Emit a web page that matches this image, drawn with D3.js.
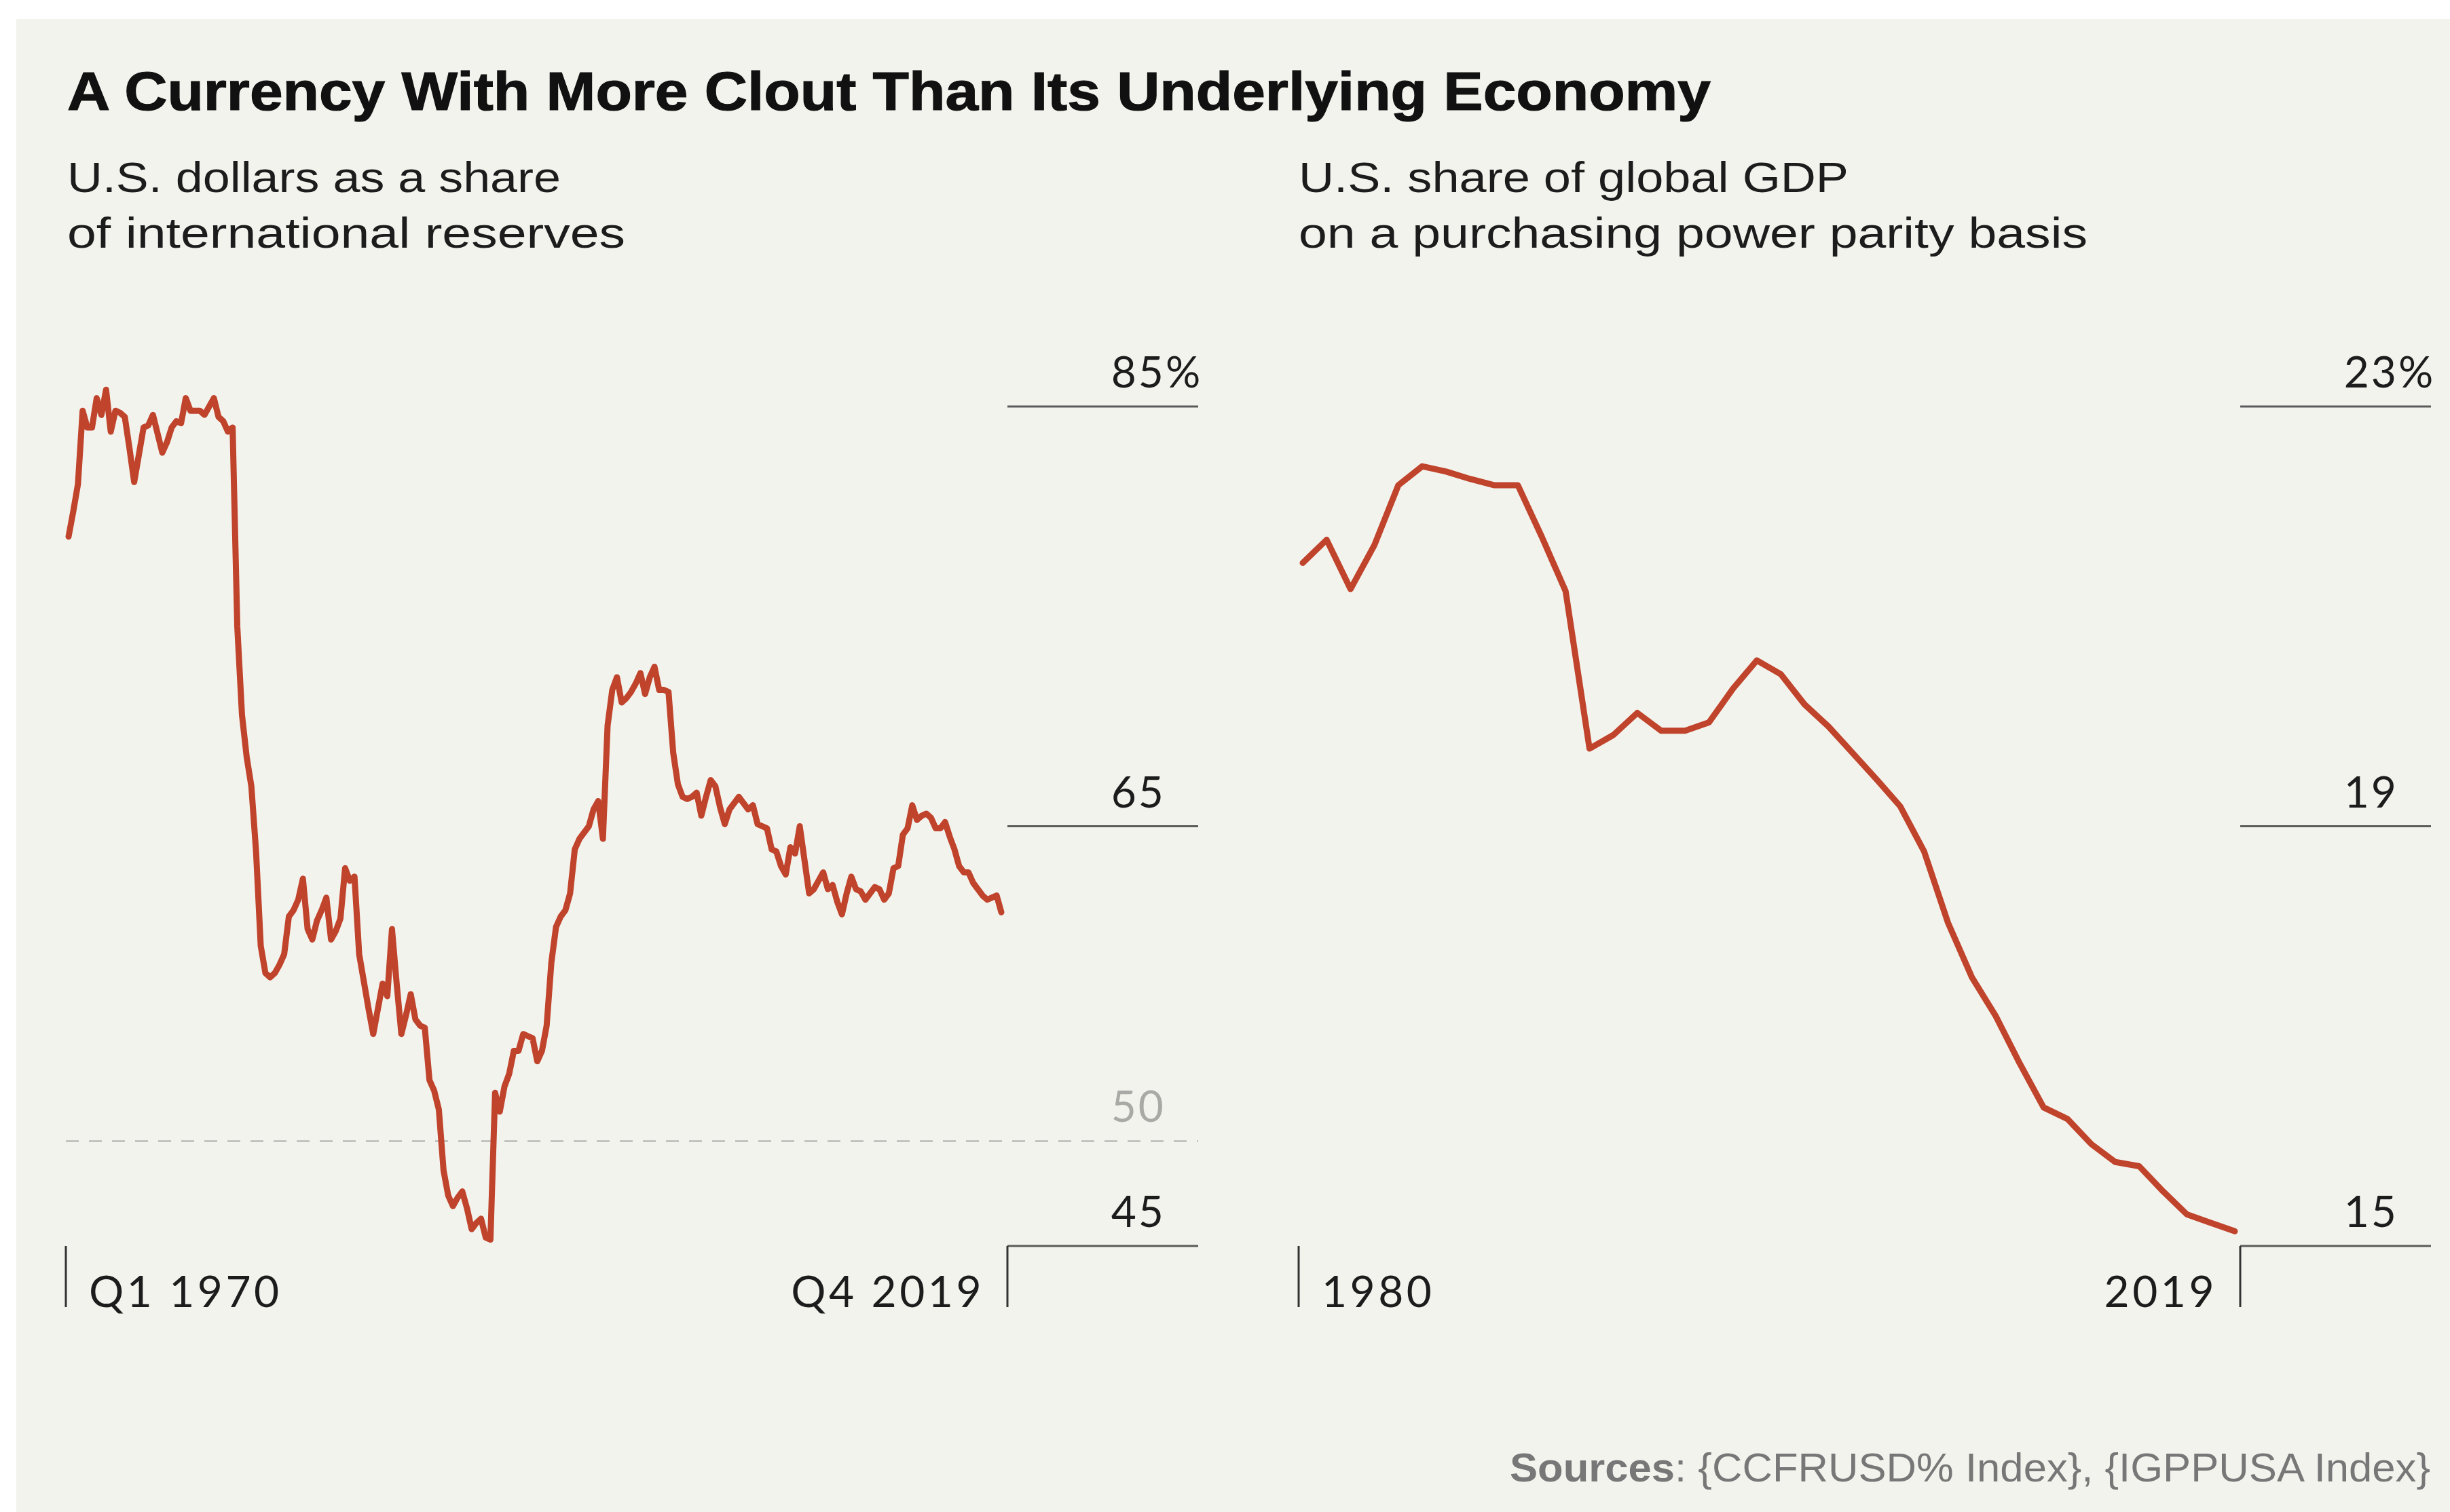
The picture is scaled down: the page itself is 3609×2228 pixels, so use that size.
<!DOCTYPE html>
<html>
<head>
<meta charset="utf-8">
<script src="https://cdn.jsdelivr.net/npm/d3@7"></script>
<style>
  html, body { margin: 0; padding: 0; background: #ffffff; }
  svg { display: block; }
</style>
</head>
<body>
<svg id="chart" width="3609" height="2228"></svg>
<script>
// ---- Data -------------------------------------------------------------
const titleText = "A Currency With More Clout Than Its Underlying Economy";
const leftSubtitle = ["U.S. dollars as a share", "of international reserves"];
const rightSubtitle = ["U.S. share of global GDP", "on a purchasing power parity basis"];
const sourceLabel = "Sources";
const sourceText = ": {CCFRUSD% Index}, {IGPPUSA Index}";

// USD share of international reserves, quarterly, Q1 1970 .. Q4 2019 (%)
const reserveStartYear = 1970;
const reserveShare = [
  78.8, 80.0, 81.3, 84.8, 84.0, 84.0, 85.4, 84.6, 85.8, 83.8,
  84.8, 84.7, 84.5, 83.0, 81.4, 82.7, 84.0, 84.1, 84.6, 83.7,
  82.8, 83.3, 84.0, 84.3, 84.2, 85.4, 84.8, 84.8, 84.8, 84.6,
  85.0, 85.4, 84.5, 84.3, 83.8, 84.0, 74.5, 70.3, 68.3, 66.9,
  63.8, 59.3, 58.0, 57.8, 58.0, 58.4, 58.9, 60.7, 61.0, 61.5,
  62.5, 60.1, 59.6, 60.5, 61.0, 61.6, 59.6, 60.0, 60.6, 63.0,
  62.4, 62.6, 58.9, 57.6, 56.3, 55.1, 56.3, 57.5, 56.9, 60.1,
  57.5, 55.1, 56.0, 57.0, 55.8, 55.5, 55.4, 52.9, 52.4, 51.5,
  48.6, 47.4, 46.9, 47.3, 47.6, 46.8, 45.8, 46.1, 46.3, 45.4,
  45.3, 52.3, 51.4, 52.6, 53.2, 54.3, 54.3, 55.1, 55.0, 54.9,
  53.8, 54.3, 55.5, 58.5, 60.2, 60.7, 61.0, 61.8, 63.9, 64.4,
  64.7, 65.0, 65.8, 66.2, 64.4, 69.8, 71.5, 72.1, 70.9, 71.1,
  71.4, 71.8, 72.3, 71.3, 72.1, 72.6, 71.5, 71.5, 71.4, 68.5,
  67.0, 66.4, 66.3, 66.4, 66.6, 65.5, 66.4, 67.2, 66.9, 65.9,
  65.1, 65.8, 66.1, 66.4, 66.1, 65.8, 66.0, 65.1, 65.0, 64.9,
  63.9, 63.8, 63.1, 62.7, 64.0, 63.7, 65.0, 63.4, 61.8, 62.0,
  62.4, 62.8, 62.0, 62.2, 61.4, 60.8, 61.8, 62.6, 62.0, 61.9,
  61.5, 61.8, 62.1, 62.0, 61.5, 61.8, 63.0, 63.1, 64.6, 64.9,
  66.0, 65.3, 65.5, 65.6, 65.4, 64.9, 64.9, 65.2, 64.5, 63.9,
  63.1, 62.8, 62.8, 62.3, 62.0, 61.7, 61.5, 61.6, 61.7, 60.9
];

// U.S. share of global GDP (PPP), annual (%)
const gdpYears = [
  1980, 1981, 1982, 1983, 1984, 1985, 1986, 1987, 1988, 1989,
  1990, 1991, 1992, 1993, 1994, 1995, 1996, 1997, 1998, 1999,
  2000, 2001, 2002, 2003, 2004, 2005, 2006, 2007, 2008, 2009,
  2010, 2011, 2012, 2013, 2014, 2015, 2016, 2017, 2018, 2019
];
const gdpShare = [
  21.51, 21.73, 21.26, 21.68, 22.25, 22.43, 22.38, 22.31, 22.25, 22.25,
  21.76, 21.24, 19.74, 19.87, 20.08, 19.91, 19.91, 19.99, 20.31, 20.58,
  20.45, 20.16, 19.95, 19.70, 19.45, 19.19, 18.76, 18.08, 17.56, 17.19,
  16.74, 16.32, 16.21, 15.97, 15.80, 15.76, 15.52, 15.30, 15.22, 15.14
];

// Axis labels
const leftTicks = [85, 65, 45];
const leftRefLine = 50;
const leftXLabels = ["Q1 1970", "Q4 2019"];
const rightTicks = [23, 19, 15];
const rightXLabels = ["1980", "2019"];

// ---- Styling ----------------------------------------------------------
const lineColor = "#c0432b";
const inkColor = "#1c1c1c";
const ruleColor = "#5a5a5a";
const panelColor = "#f3f3ee";
const titleFont = "'Liberation Sans', Arial, sans-serif";
const numFont = "Lato, 'Open Sans', sans-serif";

const svg = d3.select("#chart");

svg.append("rect")
  .attr("x", 24).attr("y", 28)
  .attr("width", 3609 - 24).attr("height", 2228 - 28)
  .attr("fill", panelColor);

// Title and subtitles
svg.append("text")
  .attr("x", 99).attr("y", 162)
  .attr("font-family", titleFont)
  .attr("font-weight", 700)
  .attr("font-size", 80)
  .attr("fill", "#111")
  .attr("stroke", "#111").attr("stroke-width", 1.2)
  .attr("textLength", 2421)
  .attr("lengthAdjust", "spacingAndGlyphs")
  .text(titleText);

function subtitle(x, lines, widths) {
  lines.forEach((t, k) => {
    svg.append("text")
      .attr("x", x).attr("y", 283 + k * 82)
      .attr("font-family", titleFont)
      .attr("font-size", 63)
      .attr("fill", inkColor)
      .attr("textLength", widths[k])
      .attr("lengthAdjust", "spacingAndGlyphs")
      .text(t);
  });
}
subtitle(99, leftSubtitle, [727, 822]);
subtitle(1913, rightSubtitle, [810, 1162]);

// ---- Panel builder ----------------------------------------------------
function panel(opts) {
  const g = svg.append("g");
  const y = d3.scaleLinear().domain([opts.ticks[2], opts.ticks[0]]).range([1836, 599]);
  const x = d3.scaleLinear().domain(opts.xDomain).range(opts.xRange);

  const gridX0 = opts.axisRight, gridX1 = opts.axisRight + 281;

  // horizontal rules for the labelled values
  g.selectAll("line.grid")
    .data(opts.ticks)
    .join("line")
    .attr("class", "grid")
    .attr("x1", gridX0).attr("x2", gridX1)
    .attr("y1", d => y(d)).attr("y2", d => y(d))
    .attr("stroke", ruleColor).attr("stroke-width", 3);

  // value labels, the top one carries a hanging percent sign
  const labelX = gridX1 - 48;
  const numStyle = (sel, ls) => sel
    .attr("font-family", numFont)
    .attr("font-size", 64)
    .attr("letter-spacing", ls);
  g.selectAll("text.val")
    .data(opts.ticks)
    .join("text")
    .attr("class", "val")
    .attr("x", labelX)
    .attr("y", d => y(d) - 28)
    .attr("text-anchor", "end")
    .call(numStyle, 3)
    .attr("fill", inkColor)
    .text(d => d);
  g.append("text")
    .attr("x", labelX)
    .attr("y", y(opts.ticks[0]) - 28)
    .call(numStyle, 3)
    .attr("fill", inkColor)
    .text("%");

  // optional dashed reference line
  if (opts.refLine != null) {
    g.append("line")
      .attr("x1", opts.axisLeft).attr("x2", gridX1)
      .attr("y1", y(opts.refLine)).attr("y2", y(opts.refLine))
      .attr("stroke", "#b9b9b6").attr("stroke-width", 2.5)
      .attr("stroke-dasharray", "19 15");
    g.append("text")
      .attr("x", labelX)
      .attr("y", y(opts.refLine) - 28)
      .attr("text-anchor", "end")
      .call(numStyle, 3)
      .attr("fill", "#a9a9a6")
      .text(opts.refLine);
  }

  // end ticks of the x axis
  [opts.axisLeft, opts.axisRight].forEach(px => {
    g.append("line")
      .attr("x1", px).attr("x2", px)
      .attr("y1", 1836).attr("y2", 1926)
      .attr("stroke", "#333").attr("stroke-width", 3);
  });
  g.append("text")
    .attr("x", opts.axisLeft + 34).attr("y", 1926)
    .call(numStyle, 4.5)
    .attr("fill", inkColor)
    .text(opts.xLabels[0]);
  g.append("text")
    .attr("x", opts.axisRight - 34).attr("y", 1926)
    .attr("text-anchor", "end")
    .call(numStyle, 4.5)
    .attr("fill", inkColor)
    .text(opts.xLabels[1]);

  // series
  const line = d3.line()
    .x(d => x(d[0]))
    .y(d => y(d[1]));
  g.append("path")
    .datum(opts.points)
    .attr("d", line)
    .attr("fill", "none")
    .attr("stroke", lineColor)
    .attr("stroke-width", 9)
    .attr("stroke-linejoin", "round")
    .attr("stroke-linecap", "round");
}

const reservePoints = reserveShare.map((v, i) => [reserveStartYear + i / 4, v]);
panel({
  ticks: leftTicks,
  refLine: leftRefLine,
  xLabels: leftXLabels,
  xDomain: [reserveStartYear, reserveStartYear + (reserveShare.length - 1) / 4],
  xRange: [101, 1475],
  axisLeft: 97,
  axisRight: 1484,
  points: reservePoints
});

panel({
  ticks: rightTicks,
  refLine: null,
  xLabels: rightXLabels,
  xDomain: [gdpYears[0], gdpYears[gdpYears.length - 1]],
  xRange: [1919, 3292],
  axisLeft: 1913,
  axisRight: 3300,
  points: gdpYears.map((yr, i) => [yr, gdpShare[i]])
});

// Sources footer
const src = svg.append("text")
  .attr("x", 2224).attr("y", 2183)
  .attr("font-family", titleFont)
  .attr("font-size", 60)
  .attr("fill", "#777")
  .attr("textLength", 1356)
  .attr("lengthAdjust", "spacingAndGlyphs");
src.append("tspan").attr("font-weight", 700).text(sourceLabel);
src.append("tspan").text(sourceText);
</script>
</body>
</html>
